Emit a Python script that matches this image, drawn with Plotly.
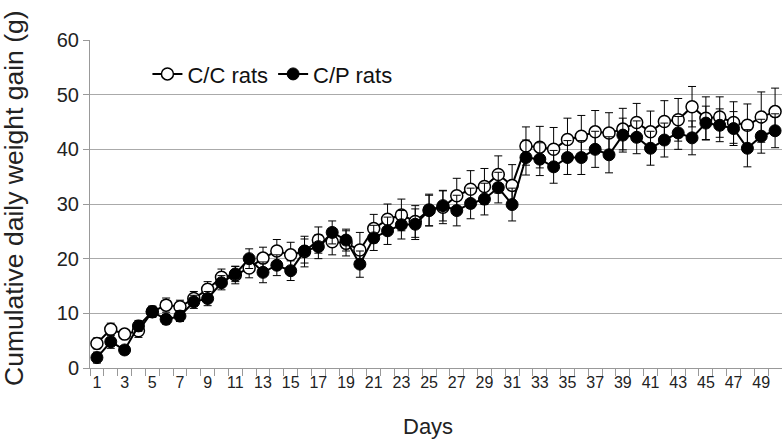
import plotly.graph_objects as go

days = list(range(1, 51))
cc_values = [4.5, 7.1, 6.2, 6.8, 10.3, 11.5, 11.2, 12.7, 14.4, 16.6,
             17.0, 18.3, 20.1, 21.4, 20.7, 21.3, 23.4, 23.1, 22.8, 21.6,
             25.5, 27.2, 28.0, 26.8, 28.9, 29.4, 31.5, 32.7, 33.2, 35.4,
             33.4, 40.6, 40.4, 40.0, 41.8, 42.4, 43.2, 43.0, 43.7, 44.9,
             43.2, 45.1, 45.4, 47.8, 45.7, 45.9, 44.9, 44.4, 45.9, 46.9]
cp_values = [1.9, 4.8, 3.3, 7.7, 10.3, 8.9, 9.5, 12.1, 12.7, 15.6,
             17.2, 20.0, 17.5, 18.8, 17.8, 21.4, 22.2, 24.8, 23.4, 19.0,
             23.8, 25.1, 26.2, 26.3, 28.8, 29.7, 28.8, 30.1, 30.9, 33.0,
             29.9, 38.5, 38.2, 36.8, 38.5, 38.5, 40.0, 39.0, 42.6, 42.2,
             40.2, 41.7, 43.0, 42.1, 44.8, 44.4, 43.8, 40.2, 42.4, 43.4]
cc_err = [1.0, 1.1, 0.8, 1.2, 1.0, 1.3, 1.2, 1.3, 1.4, 1.5,
          1.6, 1.8, 2.0, 2.1, 2.3, 2.8, 2.4, 2.4, 2.3, 3.2,
          2.6, 2.8, 2.9, 2.9, 2.9, 3.0, 3.2, 3.4, 3.3, 3.4,
          3.8, 3.5, 3.8, 4.0, 3.9, 3.8, 3.9, 3.7, 3.8, 3.5,
          3.8, 3.8, 3.9, 3.7, 3.9, 3.7, 3.8, 3.9, 4.6, 4.3]
cp_err = [1.0, 1.2, 0.8, 1.0, 1.0, 0.9, 1.0, 1.2, 1.3, 1.3,
          1.4, 1.8, 1.9, 1.9, 1.8, 2.2, 2.2, 2.1, 2.0, 2.4,
          2.3, 2.5, 2.6, 2.8, 2.8, 2.8, 2.8, 2.8, 2.9, 2.8,
          3.0, 3.2, 3.0, 3.0, 3.1, 3.1, 3.3, 3.3, 3.1, 3.0,
          3.1, 3.1, 3.0, 3.1, 3.1, 3.0, 3.1, 3.4, 3.1, 3.1]
x_tick_labels = [str(d) for d in range(1, 50, 2)]

fig = go.Figure()
fig.add_trace(go.Scatter(
    x=days, y=cc_values, name="C/C rats", mode="lines+markers",
    line=dict(color="black", width=2),
    marker=dict(symbol="circle", size=12, color="white", line=dict(color="black", width=1.5)),
    error_y=dict(type="data", array=cc_err, visible=True, color="black", thickness=1, width=4),
))
fig.add_trace(go.Scatter(
    x=days, y=cp_values, name="C/P rats", mode="lines+markers",
    line=dict(color="black", width=2),
    marker=dict(symbol="circle", size=12, color="black", line=dict(color="black", width=1)),
    error_y=dict(type="data", array=cp_err, visible=True, color="black", thickness=1, width=4),
))

fig.update_layout(
    width=782, height=439,
    margin=dict(l=90, r=0, t=40, b=71),
    paper_bgcolor="white", plot_bgcolor="white",
    font=dict(family="Liberation Sans, Arial, sans-serif", color="#222"),
    showlegend=True,
    legend=dict(orientation="h", x=0.083, y=0.896, xanchor="left", yanchor="middle",
                font=dict(size=22, color="#111"), bgcolor="rgba(0,0,0,0)",
                itemwidth=30, tracegroupgap=0),
    xaxis=dict(range=[0.5, 50.5], tickmode="array", tickvals=list(range(1, 50, 2)),
               ticktext=x_tick_labels, ticks="", showgrid=False, zeroline=False,
               showline=True, linecolor="#999", linewidth=1,
               tickfont=dict(size=16, color="#222"),
               minor=dict(tickmode="linear", tick0=0.5, dtick=1, ticks="outside",
                          ticklen=7, tickcolor="#999", tickwidth=1, showgrid=False)),
    yaxis=dict(range=[0, 60], tickmode="linear", tick0=0, dtick=10,
               showgrid=True, gridcolor="#aaa", gridwidth=1, zeroline=False,
               showline=True, linecolor="#999", linewidth=1,
               ticks="outside", ticklen=6, tickcolor="#999",
               tickfont=dict(size=20, color="#222")),
    annotations=[
        dict(text="Cumulative daily weight gain (g)", xref="paper", yref="paper",
             x=-(90 - 14) / 692, y=(368 - 198) / 328, xanchor="center", yanchor="middle",
             textangle=-90, showarrow=False, font=dict(size=26.5, color="#222")),
        dict(text="Days", xref="paper", yref="paper",
             x=(428 - 90) / 692, y=-(426 - 368) / 328, xanchor="center", yanchor="middle",
             showarrow=False, font=dict(size=22, color="#222")),
    ],
)

fig.write_html("out.html")
